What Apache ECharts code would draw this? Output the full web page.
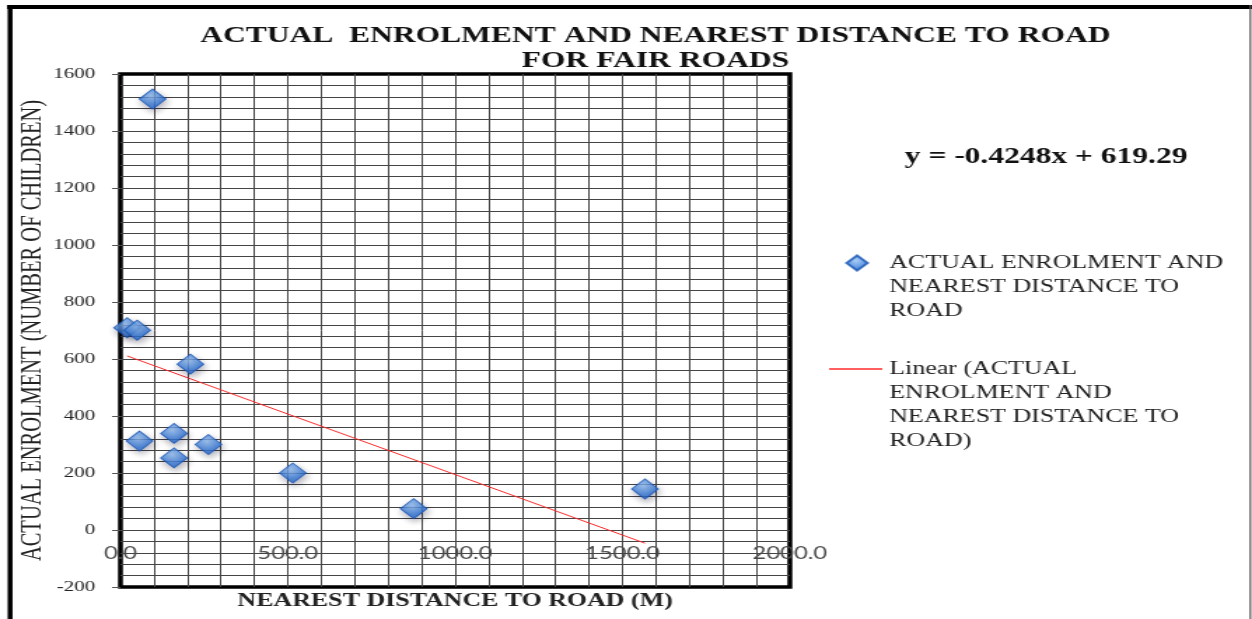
<!DOCTYPE html>
<html>
<head>
<meta charset="utf-8">
<script src="https://cdn.jsdelivr.net/npm/echarts@6/dist/echarts.min.js"></script>
<style>
  html, body { margin: 0; padding: 0; background: #fff; }
  #wrap { width: 1252px; height: 619px; overflow: hidden; position: relative; }
  #chart { width: 894px; height: 619px; transform: scaleX(1.40045); transform-origin: 0 0; }
</style>
</head>
<body>
<div id="wrap"><div id="chart"></div></div>
<script>
// ---- data ----
const distance  = [20, 50, 96, 57, 160, 160, 209, 263, 515, 876, 1567];
const enrolment = [710, 701, 1512, 312, 339, 253, 582, 300, 200, 75, 144];
const trendSlope = -0.4248;
const trendIntercept = 619.29;
const xTicks = { min: 0, max: 2000, step: 500 };
const yTicks = { min: -200, max: 1600, step: 200 };
const seriesName = 'ACTUAL ENROLMENT AND NEAREST DISTANCE TO ROAD';
const trendName = 'Linear (ACTUAL ENROLMENT AND NEAREST DISTANCE TO ROAD)';
const titleLines = ['ACTUAL  ENROLMENT AND NEAREST DISTANCE TO ROAD', 'FOR FAIR ROADS'];
const xTitle = 'NEAREST DISTANCE TO ROAD (M)';
const yTitle = 'ACTUAL ENROLMENT (NUMBER OF CHILDREN)';
const equationText = 'y = -0.4248x + 619.29';

const points = distance.map((d, i) => [d, enrolment[i]]);
const xMin = Math.min(...distance), xMax = Math.max(...distance);
const trend = [[xMin, trendSlope * xMin + trendIntercept], [xMax, trendSlope * xMax + trendIntercept]];

const serif = '"Liberation Serif", "Times New Roman", serif';
const chart = echarts.init(document.getElementById('chart'), null, { renderer: 'canvas' });

// legend labels wrapped as in the reference; leading blank lines keep the
// first text line level with the legend icon
const legendLines = {
  [seriesName]: ['ACTUAL ENROLMENT AND', 'NEAREST DISTANCE TO', 'ROAD'],
  [trendName]: ['Linear (ACTUAL', 'ENROLMENT AND', 'NEAREST DISTANCE TO', 'ROAD)']
};
const legendFormatter = n => {
  const lines = legendLines[n];
  return '\n'.repeat(lines.length - 1) + lines.join('\n');
};
const gridColor = '#444';

chart.setOption({
  animation: false,
  title: [{
    text: titleLines.join('\n'),
    left: 468, top: 24, textAlign: 'center', padding: 0,
    textStyle: { fontFamily: serif, fontWeight: 'bold', fontSize: 22.5, lineHeight: 25, color: '#111' }
  }, {
    text: equationText,
    left: 747, top: 146, textAlign: 'center', padding: 0,
    textStyle: { fontFamily: serif, fontWeight: 'bold', fontSize: 22.5, color: '#111' }
  }],
  legend: [{
    data: [{ name: seriesName, icon: 'diamond' }],
    orient: 'vertical', left: 603.5, top: 203, padding: 0,
    itemWidth: 15, itemHeight: 15,
    formatter: legendFormatter,
    textStyle: { fontFamily: serif, fontSize: 18.5, lineHeight: 24, color: '#222', padding: [0, 0, 0, 10.5] }
  }, {
    data: [{ name: trendName, icon: 'rect' }],
    orient: 'vertical', left: 592, top: 285, padding: 0,
    itemWidth: 38, itemHeight: 1.4,
    formatter: legendFormatter,
    textStyle: { fontFamily: serif, fontSize: 18.5, lineHeight: 24, color: '#222' }
  }],
  grid: {
    left: 86, right: 330, top: 74, bottom: 32,
    show: true, borderColor: '#000', borderWidth: 3.5, backgroundColor: 'transparent',
    outerBoundsMode: 'none'
  },
  xAxis: {
    type: 'value', min: xTicks.min, max: xTicks.max, interval: xTicks.step,
    position: 'bottom',
    name: xTitle, nameLocation: 'middle', nameGap: 5, nameMoveOverlap: false,
    nameTextStyle: { fontFamily: serif, fontWeight: 'bold', fontSize: 18.5, color: '#222' },
    axisLine: { show: false, onZero: false },
    axisTick: { show: false },
    axisLabel: { formatter: v => v.toFixed(1), fontFamily: 'Lato, "Open Sans", sans-serif', fontSize: 17, color: '#4a4a4a', margin: -42, showMinLabel: true, showMaxLabel: true },
    splitLine: { show: true, showMinLine: false, showMaxLine: false, lineStyle: { color: gridColor, width: 1 } },
    minorTick: { show: false, splitNumber: 5 },
    minorSplitLine: { show: true, lineStyle: { color: gridColor, width: 1 } }
  },
  yAxis: {
    type: 'value', min: yTicks.min, max: yTicks.max, interval: yTicks.step,
    name: yTitle, nameLocation: 'middle', nameGap: 52, nameMoveOverlap: false,
    nameTextStyle: { fontFamily: serif, fontSize: 20.5, color: '#222' },
    axisLine: { show: false, onZero: false },
    axisTick: { show: true, length: 6, lineStyle: { color: '#555' } },
    axisLabel: { formatter: v => String(v), fontFamily: serif, fontSize: 15, color: '#222', margin: 18, showMinLabel: true, showMaxLabel: true },
    splitLine: { show: true, showMinLine: false, showMaxLine: false, lineStyle: { color: gridColor, width: 1 } },
    minorTick: { show: false, splitNumber: 5 },
    minorSplitLine: { show: true, lineStyle: { color: gridColor, width: 1 } }
  },
  graphic: [
    { type: 'line', shape: { x1: 7.2, y1: 5, x2: 7.2, y2: 640 }, style: { stroke: '#000', lineWidth: 3.5 }, z: 100 },
    { type: 'line', shape: { x1: 5, y1: 7, x2: 894, y2: 7 }, style: { stroke: '#000', lineWidth: 4 }, z: 100 },
    { type: 'line', shape: { x1: 892.8, y1: 5, x2: 892.8, y2: 640 }, style: { stroke: '#555', lineWidth: 1.2 }, z: 100 }
  ],
  series: [{
    name: trendName, type: 'line', data: trend, symbol: 'none', showSymbol: false,
    lineStyle: { color: '#ff2a2a', width: 1 }, itemStyle: { color: '#ff2a2a' }, z: 3
  }, {
    name: seriesName, type: 'scatter', data: points, symbol: 'diamond', symbolSize: [19, 20],
    itemStyle: {
      color: new echarts.graphic.RadialGradient(0.45, 0.35, 0.7, [
        { offset: 0, color: '#93c0f4' },
        { offset: 0.6, color: '#3a7ddb' },
        { offset: 1, color: '#1f5fc4' }
      ]),
      borderColor: '#1a56b4', borderWidth: 1,
      shadowBlur: 6, shadowColor: 'rgba(0,0,40,0.4)', shadowOffsetX: 1, shadowOffsetY: 3
    },
    z: 4
  }]
});
</script>
</body>
</html>
